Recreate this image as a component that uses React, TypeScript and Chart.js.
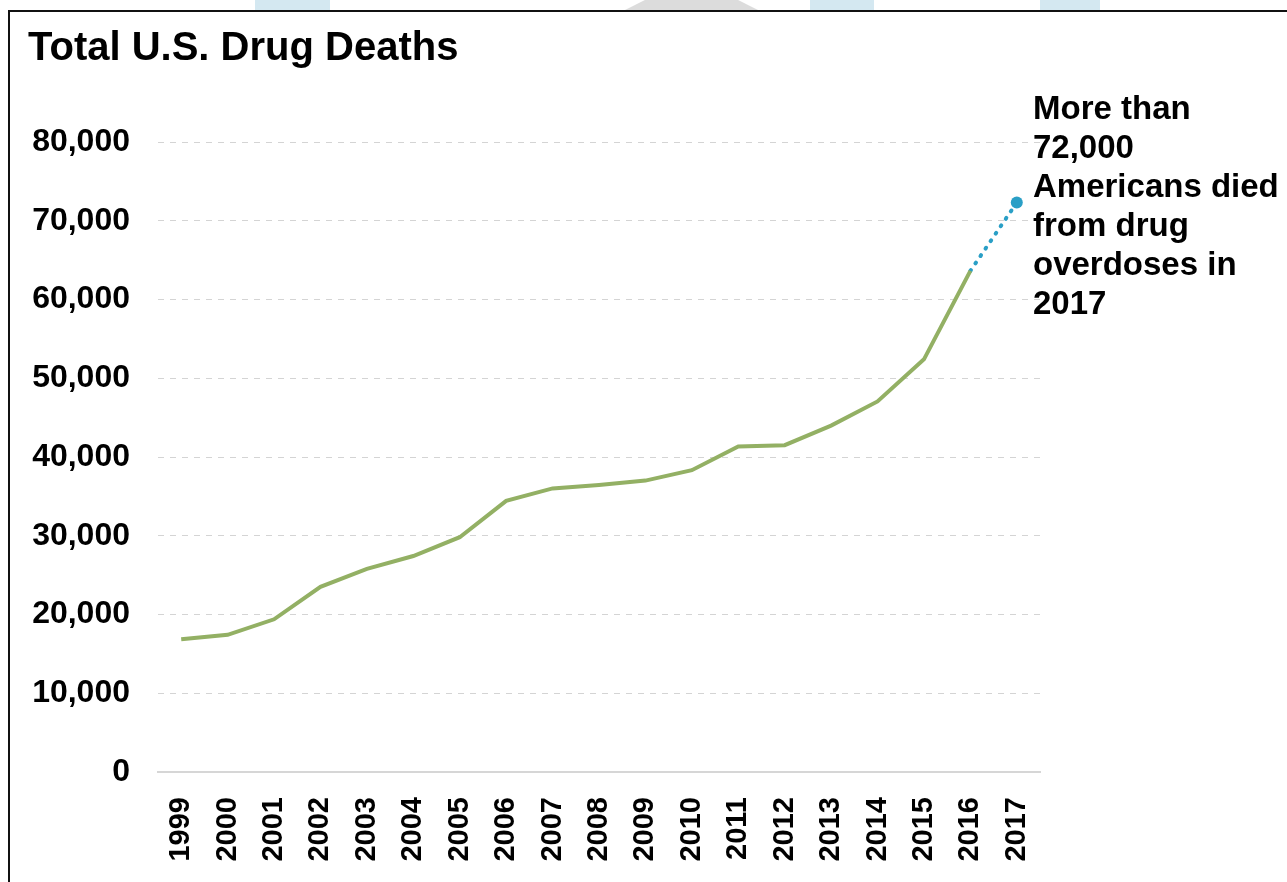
import React, { useEffect, useRef } from "react";
import { Chart, registerables } from "chart.js";

Chart.register(...registerables);

const years = [
  "1999", "2000", "2001", "2002", "2003", "2004", "2005", "2006", "2007", "2008",
  "2009", "2010", "2011", "2012", "2013", "2014", "2015", "2016", "2017",
];
const deaths: (number | null)[] = [
  16849, 17415, 19394, 23518, 25785, 27424, 29813, 34425, 36010, 36450,
  37004, 38329, 41340, 41502, 43982, 47055, 52404, 63632, null,
];
const estimate: (number | null)[] = [
  null, null, null, null, null, null, null, null, null, null,
  null, null, null, null, null, null, null, 63632, 72306,
];
const estimatePointRadius = [0, 0, 0, 0, 0, 0, 0, 0, 0, 0, 0, 0, 0, 0, 0, 0, 0, 0, 6];
const yMin = 0;
const yMax = 80000;
const yStep = 10000;

const titleText = "Total U.S. Drug Deaths";
const noteLines = ["More than", "72,000", "Americans died", "from drug", "overdoses in", "2017"];

const FONT = "'Liberation Sans', Arial, Helvetica, sans-serif";

export default function App() {
  const canvasRef = useRef<HTMLCanvasElement | null>(null);

  useEffect(() => {
    if (!canvasRef.current) return;
    const chart = new Chart(canvasRef.current, {
      type: "line",
      data: {
        labels: years,
        datasets: [
          {
            data: deaths,
            borderColor: "#93b064",
            borderWidth: 4,
            pointRadius: 0,
            tension: 0,
            spanGaps: false,
          },
          {
            data: estimate,
            borderColor: "#2a9fc6",
            backgroundColor: "#2a9fc6",
            borderWidth: 4,
            borderDash: [1, 8],
            borderCapStyle: "round",
            pointRadius: estimatePointRadius,
            pointBorderWidth: 0,
            pointBackgroundColor: "#2a9fc6",
            tension: 0,
          },
        ],
      },
      options: {
        animation: false,
        responsive: true,
        maintainAspectRatio: false,
        layout: { padding: { top: 131, right: 247, left: 0, bottom: 0 } },
        plugins: {
          legend: { display: false },
          title: { display: false },
          tooltip: { enabled: false },
        },
        scales: {
          x: {
            offset: true,
            grid: { display: false },
            border: { display: true, color: "#d6d6d6", width: 2 },
            ticks: {
              autoSkip: false,
              minRotation: 90,
              maxRotation: 90,
              padding: 17,
              color: "#000",
              font: { family: FONT, size: 29, weight: "bold" },
            },
            afterFit: (scale: any) => {
              scale.height = 110;
            },
          },
          y: {
            min: yMin,
            max: yMax,
            border: { display: false, dash: [6, 6] },
            grid: {
              drawTicks: false,
              lineWidth: 1,
              color: (ctx: any) => (ctx.tick && ctx.tick.value === 0 ? "rgba(0,0,0,0)" : "#d4d4d4"),
            },
            ticks: {
              stepSize: yStep,
              padding: 28,
              color: "#000",
              font: { family: FONT, size: 32, weight: "bold" },
              callback: (v: any) => Number(v).toLocaleString("en-US"),
            },
            afterFit: (scale: any) => {
              scale.width = 158;
            },
          },
        },
      },
    });
    return () => chart.destroy();
  }, []);

  return (
    <div
      style={{
        position: "absolute",
        left: 0,
        top: 0,
        width: 1287,
        height: 882,
        background: "#fff",
        overflow: "hidden",
        fontFamily: FONT,
      }}
    >
      <div style={{ position: "absolute", left: 255, top: 0, width: 75, height: 10, background: "#d4e8f1" }} />
      <div
        style={{
          position: "absolute",
          left: 625,
          top: 0,
          width: 133,
          height: 10,
          background: "#dcdcdc",
          clipPath: "polygon(0% 100%, 15% 0%, 85% 0%, 100% 100%)",
        }}
      />
      <div style={{ position: "absolute", left: 810, top: 0, width: 64, height: 10, background: "#d4e8f1" }} />
      <div style={{ position: "absolute", left: 1040, top: 0, width: 60, height: 10, background: "#d4e8f1" }} />
      <div style={{ position: "absolute", left: 0, top: 11, width: 1287, height: 871 }}>
        <canvas ref={canvasRef} />
      </div>
      <div style={{ position: "absolute", left: 8, top: 10, width: 1279, height: 2, background: "#111" }} />
      <div style={{ position: "absolute", left: 8, top: 10, width: 2, height: 872, background: "#111" }} />
      <div
        style={{
          position: "absolute",
          left: 28,
          top: 26,
          fontSize: 40,
          lineHeight: "40px",
          fontWeight: "bold",
          color: "#000",
          whiteSpace: "nowrap",
        }}
      >
        {titleText}
      </div>
      <div
        style={{
          position: "absolute",
          left: 1033,
          top: 88,
          fontSize: 33,
          lineHeight: "39px",
          fontWeight: "bold",
          color: "#000",
          whiteSpace: "nowrap",
        }}
      >
        {noteLines.map((l, i) => (
          <div key={i}>{l}</div>
        ))}
      </div>
    </div>
  );
}
